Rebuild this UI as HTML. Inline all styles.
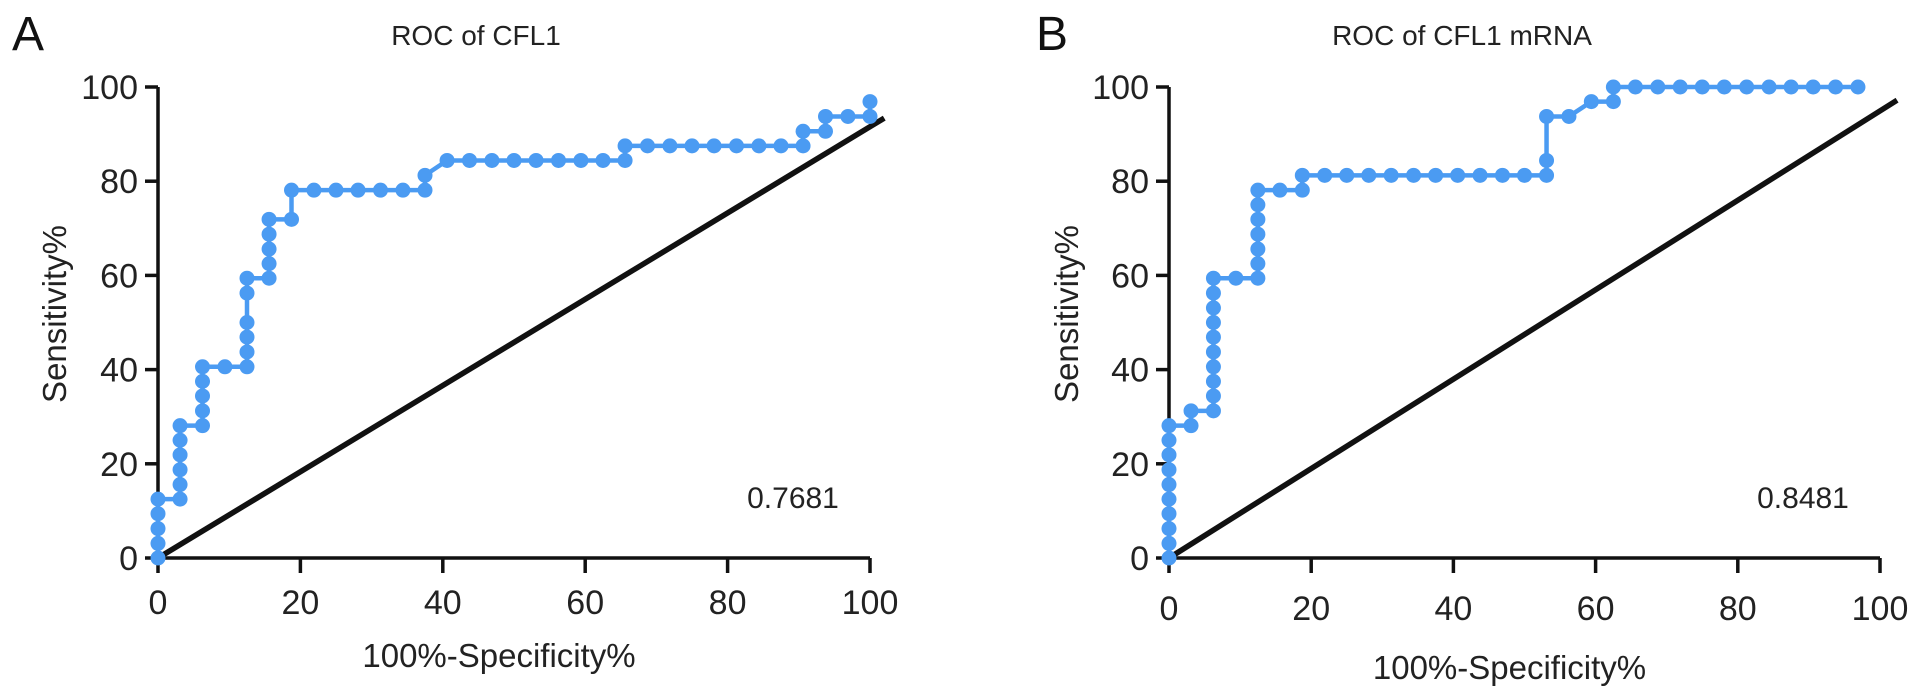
<!DOCTYPE html>
<html><head><meta charset="utf-8"><style>
html,body{margin:0;padding:0;background:#fff;}
svg{display:block;font-family:"Liberation Sans",Arial,sans-serif;}
</style></head><body>
<svg id="fig" width="1913" height="691" viewBox="0 0 1913 691">
</svg>
<script>
// Panel A data (100%-Specificity%, Sensitivity%)
const aX = [0,0,0,0,0, 3.1,3.1,3.1,3.1,3.1,3.1, 6.25,6.25,6.25,6.25,6.25, 9.4,12.5,12.5,12.5,12.5,12.5,12.5, 15.6,15.6,15.6,15.6,15.6, 18.75,18.75, 21.9,25,28.1,31.25,34.4,37.5,37.5, 40.6,43.75,46.9,50,53.1,56.25,59.4,62.5,65.6,65.6, 68.75,71.9,75,78.1,81.25,84.4,87.5,90.6,90.6,93.75,93.75,96.9,100,100];
const aY = [0,3.1,6.25,9.4,12.5, 12.5,15.6,18.75,21.9,25,28.1, 28.1,31.25,34.4,37.5,40.6, 40.6,40.6,43.75,46.9,50,56.25,59.4, 59.4,62.5,65.6,68.75,71.9, 71.9,78.1, 78.1,78.1,78.1,78.1,78.1,78.1,81.25, 84.4,84.4,84.4,84.4,84.4,84.4,84.4,84.4,84.4,87.5, 87.5,87.5,87.5,87.5,87.5,87.5,87.5,87.5,90.6,90.6,93.75,93.75,93.75,96.9];
// Panel B data
const bX = [0,0,0,0,0,0,0,0,0,0, 3.1,3.1, 6.25,6.25,6.25,6.25,6.25,6.25,6.25,6.25,6.25,6.25, 9.4,12.5,12.5,12.5,12.5,12.5,12.5,12.5, 15.6,18.75,18.75, 21.9,25,28.1,31.25,34.4,37.5,40.6,43.75,46.9,50,53.1,53.1,53.1, 56.25,59.4,62.5,62.5, 65.6,68.75,71.9,75,78.1,81.25,84.4,87.5,90.6,93.75,96.9];
const bY = [0,3.1,6.25,9.4,12.5,15.6,18.75,21.9,25,28.1, 28.1,31.25, 31.25,34.4,37.5,40.6,43.75,46.9,50,53.1,56.25,59.4, 59.4,59.4,62.5,65.6,68.75,71.9,75,78.1, 78.1,78.1,81.25, 81.25,81.25,81.25,81.25,81.25,81.25,81.25,81.25,81.25,81.25,81.25,84.4,93.75, 93.75,96.9,96.9,100, 100,100,100,100,100,100,100,100,100,100,100];
const xTicks = [0,20,40,60,80,100];
const yTicks = [0,20,40,60,80,100];
const diagA = [102, 93.4];
const diagB = [102.4, 97.2];

const NS = 'http://www.w3.org/2000/svg';
const svg = document.getElementById('fig');
function mk(tag, attrs, parent){const e=document.createElementNS(NS,tag);for(const k in attrs)e.setAttribute(k,attrs[k]);(parent||svg).appendChild(e);return e;}

function panel(opt){
  const g = mk('g',{});
  
  
  const sx = v => opt.x0 + v*(opt.x1-opt.x0)/100;
  const sy = v => 558 - v*(558-87)/100;
  let t = mk('text',{x:opt.lx,y:50,'font-size':48,fill:'#111'},g); t.textContent=opt.letter;
  
  
  t = mk('text',{x:opt.tx,y:45,'font-size':28,'text-anchor':'middle',fill:'#222'},g); t.textContent=opt.title;
  
  
  let ax = mk('path',{d:`M${sx(0)} ${sy(100)} V${sy(0)} H${sx(100)}`,stroke:'#111','stroke-width':3.5,fill:'none'},g);
  
  
  yTicks.forEach(v=>{
    mk('line',{x1:sx(0)-13,x2:sx(0),y1:sy(v),y2:sy(v),stroke:'#111','stroke-width':3.5},g);
    const l = mk('text',{x:sx(0)-20,y:sy(v)+12,'font-size':34,'text-anchor':'end',fill:'#222'},g);
    l.textContent=v;
    
    
  });
  xTicks.forEach(v=>{
    mk('line',{x1:sx(v),x2:sx(v),y1:sy(0),y2:sy(0)+15,stroke:'#111','stroke-width':3.5},g);
    const l = mk('text',{x:sx(v),y:opt.xtb,'font-size':34,'text-anchor':'middle',fill:'#222'},g);
    l.textContent=v;
    
    
  });
  t = mk('text',{x:(sx(0)+sx(100))/2-15,y:opt.xlb,'font-size':33,'text-anchor':'middle',fill:'#222'},g); t.textContent='100%-Specificity%';
  
  
  t = mk('text',{x:0,y:0,'font-size':33,'text-anchor':'middle',fill:'#222',transform:`translate(${opt.ylx},314) rotate(-90)`},g); t.textContent='Sensitivity%';
  
  
  t = mk('text',{x:opt.aucx,y:508,'font-size':30,'text-anchor':'middle',fill:'#222'},g); t.textContent=opt.auc;
  
  
  const d = mk('line',{x1:sx(0),y1:sy(0),x2:sx(opt.diag[0]),y2:sy(opt.diag[1]),stroke:'#111','stroke-width':5.5},g);
  
  
  const pts = opt.xs.map((v,i)=>sx(v)+','+sy(opt.ys[i])).join(' ');
  const pl = mk('polyline',{points:pts,fill:'none',stroke:'#4b9bf2','stroke-width':4.5},g);
  
  
  opt.xs.forEach((v,i)=>{
    const c = mk('circle',{cx:sx(v),cy:sy(opt.ys[i]),r:7.5,fill:'#4b9bf2'},g);
    
    
  });
}
panel({id:'a',letter:'A',lx:12,title:'ROC of CFL1',tx:476,x0:158,x1:870,xs:aX,ys:aY,diag:diagA,xtb:614,xlb:667,ylx:66,aucx:793,auc:'0.7681'});
panel({id:'b',letter:'B',lx:1036,title:'ROC of CFL1 mRNA',tx:1462,x0:1169,x1:1880,xs:bX,ys:bY,diag:diagB,xtb:620,xlb:679,ylx:1078,aucx:1803,auc:'0.8481'});
</script>
</body></html>
